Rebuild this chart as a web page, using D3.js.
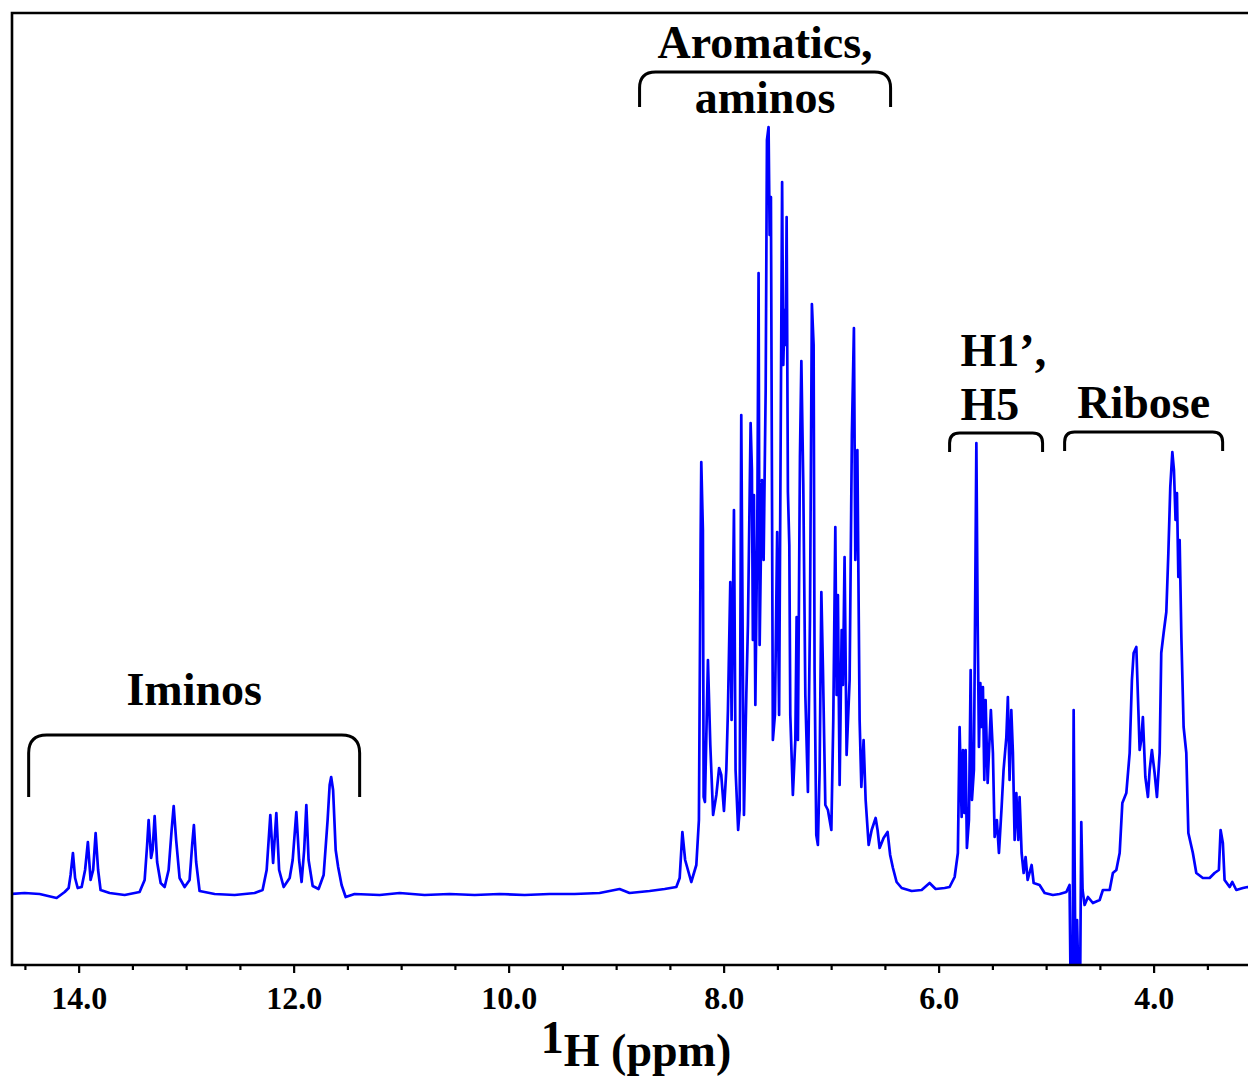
<!DOCTYPE html>
<html>
<head>
<meta charset="utf-8">
<script src="https://cdn.jsdelivr.net/npm/d3@7"></script>
<style>
  body { margin: 0; background: #fff; }
  text { font-family: "Liberation Serif", "Times New Roman", serif; font-weight: bold; fill: #000; }
</style>
</head>
<body>
<div id="nmr"></div>
<script>
// chemical shift (ppm) from left to right
const ppm = [
  14.623, 14.502, 14.363, 14.205, 14.130, 14.093, 14.075, 14.053, 14.033, 14.009,
  13.972, 13.940, 13.914, 13.889, 13.865, 13.842, 13.819, 13.796, 13.712, 13.572,
  13.433, 13.386, 13.363, 13.349, 13.326, 13.312, 13.293, 13.270, 13.237, 13.200,
  13.163, 13.135, 13.116, 13.093, 13.061, 13.014, 12.968, 12.944, 12.928, 12.907,
  12.875, 12.735, 12.549, 12.363, 12.289, 12.251, 12.217, 12.191, 12.161, 12.135,
  12.093, 12.037, 12.009, 11.975, 11.949, 11.926, 11.902, 11.882, 11.861, 11.823,
  11.768, 11.721, 11.684, 11.665, 11.651, 11.633, 11.609, 11.586, 11.554, 11.516,
  11.433, 11.200, 11.014, 10.782, 10.549, 10.316, 10.084, 9.851, 9.619, 9.386,
  9.154, 8.968, 8.875, 8.689, 8.549, 8.440, 8.409, 8.384, 8.358, 8.301,
  8.254, 8.230, 8.214, 8.208, 8.193, 8.186, 8.174, 8.146, 8.124, 8.098,
  8.068, 8.042, 8.022, 7.997, 7.975, 7.960, 7.938, 7.926, 7.904, 7.889,
  7.865, 7.851, 7.836, 7.821, 7.811, 7.789, 7.774, 7.749, 7.737, 7.728,
  7.718, 7.705, 7.687, 7.675, 7.665, 7.644, 7.628, 7.609, 7.597, 7.582,
  7.572, 7.560, 7.542, 7.523, 7.502, 7.484, 7.470, 7.456, 7.445, 7.433,
  7.423, 7.414, 7.402, 7.389, 7.380, 7.356, 7.333, 7.321, 7.309, 7.290,
  7.277, 7.259, 7.240, 7.216, 7.197, 7.179, 7.163, 7.154, 7.138, 7.123,
  7.107, 7.091, 7.076, 7.054, 7.030, 6.998, 6.980, 6.961, 6.949, 6.937,
  6.921, 6.902, 6.890, 6.875, 6.856, 6.828, 6.807, 6.788, 6.775, 6.756,
  6.735, 6.719, 6.698, 6.679, 6.651, 6.623, 6.586, 6.568, 6.549, 6.512,
  6.475, 6.451, 6.425, 6.391, 6.344, 6.251, 6.158, 6.084, 6.028, 5.944,
  5.898, 5.851, 5.821, 5.805, 5.786, 5.774, 5.761, 5.749, 5.737, 5.718,
  5.702, 5.690, 5.672, 5.659, 5.649, 5.637, 5.625, 5.612, 5.600, 5.588,
  5.575, 5.563, 5.544, 5.532, 5.514, 5.495, 5.479, 5.458, 5.439, 5.414,
  5.396, 5.370, 5.356, 5.340, 5.324, 5.309, 5.293, 5.277, 5.259, 5.247,
  5.228, 5.209, 5.191, 5.172, 5.135, 5.116, 5.061, 5.014, 4.937, 4.875,
  4.812, 4.782, 4.772, 4.763, 4.754, 4.744, 4.735, 4.726, 4.712, 4.698,
  4.684, 4.673, 4.661, 4.642, 4.611, 4.565, 4.502, 4.472, 4.409, 4.379,
  4.347, 4.316, 4.291, 4.254, 4.223, 4.202, 4.186, 4.161, 4.142, 4.130,
  4.115, 4.100, 4.077, 4.053, 4.037, 4.016, 3.991, 3.969, 3.944, 3.929,
  3.907, 3.882, 3.863, 3.845, 3.826, 3.811, 3.796, 3.783, 3.770, 3.758,
  3.742, 3.721, 3.696, 3.677, 3.635, 3.603, 3.542, 3.479, 3.433, 3.393,
  3.377, 3.356, 3.340, 3.293, 3.268, 3.231, 3.169, 3.126, 3.089
];

// intensity (a.u.), same order as ppm
const intensity = [
  -0.1, 0, -0.1, -0.5, 0.1, 0.5, 1.8, 4.0, 1.5, 0.5,
  0.6, 2.3, 5.1, 1.3, 2.3, 6.0, 2.3, 0.3, 0, -0.2,
  0.1, 1.3, 4.8, 7.3, 3.5, 4.3, 7.7, 3.1, 1.0, 0.6,
  2.3, 6.3, 8.7, 5.3, 1.5, 0.6, 1.3, 4.8, 6.8, 3.1,
  0.2, -0.1, -0.2, 0, 0.3, 2.3, 7.8, 3.0, 8.0, 2.3,
  0.6, 1.5, 3.3, 8.1, 3.3, 1.1, 4.3, 8.8, 3.3, 0.7,
  0.4, 1.8, 7.3, 10.8, 11.6, 10.3, 4.3, 2.6, 0.8, -0.4,
  -0.1, -0.2, 0, -0.2, -0.1, -0.2, -0.1, -0.2, -0.1, -0.1,
  0, 0.4, 0, 0.2, 0.4, 0.6, 1.5, 6.1, 3.3, 1.1,
  2.8, 7.3, 35.3, 43.1, 36.3, 9.6, 9.1, 23.3, 14.8, 7.8,
  9.8, 12.5, 11.8, 8.2, 12.3, 18.3, 31.1, 17.3, 38.3, 12.3,
  6.3, 8.3, 47.8, 22.3, 7.8, 19.8, 26.8, 47.0, 42.3, 25.3,
  39.8, 18.8, 36.3, 62.0, 24.8, 41.3, 33.3, 50.3, 75.3, 76.6,
  65.8, 69.6, 15.3, 17.8, 36.1, 17.8, 44.3, 71.1, 52.8, 58.3,
  54.8, 67.6, 40.1, 34.8, 17.8, 9.8, 15.3, 27.6, 15.3, 43.6,
  53.2, 40.8, 19.8, 10.1, 27.3, 58.9, 54.8, 22.3, 5.8, 4.8,
  12.3, 30.1, 22.3, 8.8, 8.3, 6.3, 17.3, 36.6, 19.8, 29.8,
  10.8, 26.3, 20.8, 33.6, 13.8, 21.3, 45.8, 56.5, 33.3, 44.3,
  17.3, 10.6, 15.3, 9.3, 4.8, 6.3, 7.5, 6.3, 4.5, 5.5,
  6.1, 3.8, 2.5, 1.1, 0.5, 0.2, 0.3, 1.0, 0.4, 0.5,
  0.6, 1.6, 4.0, 16.6, 7.6, 14.3, 8.0, 14.3, 4.5, 7.3,
  22.3, 9.3, 12.3, 30.6, 45.0, 27.3, 14.6, 21.0, 16.6, 20.6,
  11.3, 19.3, 11.0, 14.0, 18.3, 14.0, 5.6, 7.3, 4.0, 8.6,
  12.3, 15.6, 19.6, 11.3, 18.3, 14.0, 5.3, 10.0, 5.3, 9.6,
  4.0, 2.0, 3.6, 1.3, 2.8, 1.0, 0.8, 0, -0.2, -0.1,
  0.1, 0.8, -9.7, -6.7, -9.7, 18.3, 3.3, -9.7, -2.7, -9.7,
  -9.7, 7.1, 0.3, -1.2, -0.4, -1.0, -0.7, 0.3, 0.3, 2.0,
  2.3, 4.0, 9.0, 10.0, 14.0, 21.3, 24.0, 24.6, 18.3, 14.3,
  15.3, 17.6, 11.6, 9.6, 12.3, 14.3, 12.0, 9.6, 14.0, 24.0,
  26.0, 28.1, 34.0, 40.6, 44.1, 42.3, 37.3, 40.0, 31.6, 35.3,
  25.6, 16.6, 14.0, 6.0, 4.0, 2.0, 1.5, 1.5, 2.0, 2.3,
  6.3, 5.0, 1.3, 0.6, 1.1, 0.3, 0.5, 0.6, 0.5
];

// axis ticks
const majorTicks = [14, 12, 10, 8, 6, 4];
const minorTicks = [14.5, 13.5, 13, 12.5, 11.5, 11, 10.5, 9.5, 9, 8.5, 7.5, 7, 6.5, 5.5, 5, 4.5, 3.5];

// region brackets: from ppm, to ppm, top intensity, leg intensity
const regionNames = ["Iminos", "Aromatics", "H1H5", "Ribose"];
const regionFrom = [14.465, 8.782, 5.898, 4.828];
const regionTo = [11.386, 6.447, 5.033, 3.358];
const regionTop = [15.8, 82.1, 46.0, 46.1];
const regionLeg = [9.6, 78.6, 44.1, 44.2];

const w = 1248;
const h = 1076;
const padLeft = 12, padTop = 13, axisY = 965;

const xScale = d3.scaleLinear()
  .domain([14.62, 3.11])
  .range([padLeft, 1249.3]);

const yScale = d3.scaleLinear()
  .domain([-7.2, 88])
  .range([axisY, padTop]);

const svg = d3.select("#nmr")
  .append("svg")
  .attr("width", w)
  .attr("height", h);

svg.append("defs")
  .append("clipPath")
  .attr("id", "plotclip")
  .append("rect")
  .attr("x", padLeft)
  .attr("y", padTop)
  .attr("width", w - padLeft + 20)
  .attr("height", axisY - padTop);

// spectrum
const pts = ppm.map((p, i) => [p, intensity[i]]);
const line = d3.line()
  .x(d => xScale(d[0]))
  .y(d => yScale(d[1]));

svg.append("path")
  .datum(pts)
  .attr("clip-path", "url(#plotclip)")
  .attr("fill", "none")
  .attr("stroke", "#0000ff")
  .attr("stroke-width", 2.7)
  .attr("stroke-linejoin", "round")
  .attr("d", line);

// frame (right side runs off the page)
svg.append("path")
  .attr("d", `M${w + 20},${padTop} L${padLeft},${padTop} L${padLeft},${axisY} L${w + 20},${axisY}`)
  .attr("fill", "none")
  .attr("stroke", "#000")
  .attr("stroke-width", 2.6);

// x axis
const xAxis = d3.axisBottom(xScale)
  .tickValues(majorTicks)
  .tickFormat(d3.format(".1f"))
  .tickSize(8)
  .tickPadding(13);

const gx = svg.append("g")
  .attr("transform", `translate(0, ${axisY})`)
  .call(xAxis);
gx.select(".domain").remove();
gx.selectAll("line").attr("stroke-width", 2.2);
gx.selectAll("text")
  .attr("font-size", 32)
  .attr("fill", "#000");

const gm = svg.append("g")
  .attr("transform", `translate(0, ${axisY})`)
  .call(d3.axisBottom(xScale).tickValues(minorTicks).tickSize(5).tickFormat(""));
gm.select(".domain").remove();
gm.selectAll("line").attr("stroke-width", 2.2);

// axis title
const title = svg.append("text")
  .attr("x", 636)
  .attr("y", 1066)
  .attr("text-anchor", "middle")
  .attr("font-size", 46);
title.append("tspan").attr("dy", -13).text("1");
title.append("tspan").attr("dy", 13).text("H (ppm)");

// brackets
const radius = [18, 16, 10, 10];
regionNames.forEach((name, i) => {
  const x1 = xScale(regionFrom[i]), x2 = xScale(regionTo[i]);
  const yt = yScale(regionTop[i]), yb = yScale(regionLeg[i]);
  const r = radius[i];
  svg.append("path")
    .attr("d", `M${x1},${yb} L${x1},${yt + r} Q${x1},${yt} ${x1 + r},${yt} L${x2 - r},${yt} Q${x2},${yt} ${x2},${yt + r} L${x2},${yb}`)
    .attr("fill", "none")
    .attr("stroke", "#000")
    .attr("stroke-width", 3);
});

// region labels
const lab = (tx, ty, anchor, s) => svg.append("text")
  .attr("x", tx).attr("y", ty)
  .attr("text-anchor", anchor)
  .attr("font-size", 46)
  .text(s);

lab((xScale(regionFrom[0]) + xScale(regionTo[0])) / 2, yScale(regionTop[0]) - 30, "middle", "Iminos");
lab((xScale(regionFrom[1]) + xScale(regionTo[1])) / 2, yScale(regionTop[1]) - 14, "middle", "Aromatics,");
lab((xScale(regionFrom[1]) + xScale(regionTo[1])) / 2, yScale(regionTop[1]) + 41, "middle", "aminos");
lab(xScale(regionFrom[2]) + 11, yScale(regionTop[2]) - 67, "start", "H1\u2019,");
lab(xScale(regionFrom[2]) + 11, yScale(regionTop[2]) - 13, "start", "H5");
lab((xScale(regionFrom[3]) + xScale(regionTo[3])) / 2, yScale(regionTop[3]) - 14, "middle", "Ribose");
</script>
</body>
</html>
